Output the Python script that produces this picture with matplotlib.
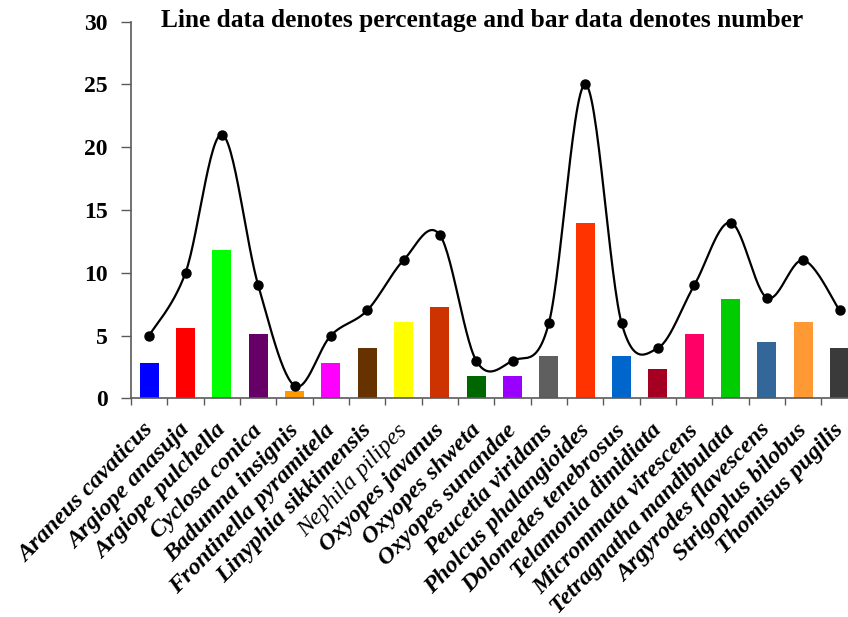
import numpy as np
import matplotlib.pyplot as plt

species = ["Araneus cavaticus", "Argiope anasuja", "Argiope pulchella", "Cyclosa conica",
           "Badumna insignis", "Frontinella pyramitela", "Linyphia sikkimensis", "Nephila pilipes",
           "Oxyopes javanus", "Oxyopes shweta", "Oxyopes sunandae", "Peucetia viridans",
           "Pholcus phalangioides", "Dolomedes tenebrosus", "Telamonia dimidiata",
           "Micrommata virescens", "Tetragnatha mandibulata", "Argyrodes flavescens",
           "Strigoplus bilobus", "Thomisus pugilis"]
numbers = [2.8, 5.6, 11.8, 5.1, 0.6, 2.8, 4.0, 6.1, 7.3, 1.8,
           1.8, 3.4, 14.0, 3.4, 2.3, 5.1, 7.9, 4.5, 6.1, 4.0]
percentage = [5, 10, 21, 9, 1, 5, 7, 11, 13, 3,
              3, 6, 25, 6, 4, 9, 14, 8, 11, 7]
bar_colors = ["#0000FF", "#FF0000", "#00FF00", "#660066", "#FF9900", "#FF00FF", "#663300",
              "#FFFF00", "#CC3300", "#006600", "#9900FF", "#5F5F5F", "#FF3300", "#0066CC",
              "#A50021", "#FF0066", "#00CC00", "#336699", "#FF9933", "#3A3A3A"]

plt.rcParams['font.family'] = ['Liberation Serif', 'DejaVu Serif']


def smooth_line(xs, ys, steps=30):
    # Catmull-Rom spline, like the Excel "smoothed line" option
    xs = np.asarray(xs, float)
    ys = np.asarray(ys, float)
    px = np.concatenate([[xs[0]], xs, [xs[-1]]])
    py = np.concatenate([[ys[0]], ys, [ys[-1]]])
    out_x, out_y = [], []
    t = np.linspace(0, 1, steps)
    for i in range(1, len(px) - 2):
        for p, out in ((px, out_x), (py, out_y)):
            p0, p1, p2, p3 = p[i - 1], p[i], p[i + 1], p[i + 2]
            seg = 0.5 * ((2 * p1) + (-p0 + p2) * t + (2 * p0 - 5 * p1 + 4 * p2 - p3) * t ** 2
                         + (-p0 + 3 * p1 - 3 * p2 + p3) * t ** 3)
            out.extend(seg)
    return np.array(out_x), np.array(out_y)


fig = plt.figure(figsize=(8.48, 6.17), dpi=100)
ax = fig.add_axes([0.1545, 0.3545, 0.857, 0.6104])

x = np.arange(len(species))
ax.bar(x, numbers, width=0.52, color=bar_colors, zorder=2)

sx, sy = smooth_line(x, percentage)
ax.plot(sx, sy, color='black', linewidth=1.6, zorder=3)
ax.plot(x, percentage, 'o', color='black', markersize=6.5, zorder=4)

ax.set_xlim(-0.5, len(species) - 0.5)
ax.set_ylim(0, 30)
ax.set_yticks(range(0, 31, 5))
ax.tick_params(axis='y', direction='out', length=7, width=1, color='#5a5a5a', labelsize=17, pad=10)
for lab in ax.get_yticklabels():
    lab.set_fontweight('bold')

ax.set_xticks(np.arange(len(species) + 1) - 0.5, minor=False)
ax.set_xticklabels([])
ax.tick_params(axis='x', direction='out', length=5, width=1, color='#5a5a5a')
for i, name in enumerate(species):
    weight = 'normal' if name == "Nephila pilipes" else 'bold'
    ax.text(i + 0.02, -2.3, name, rotation=46, rotation_mode='anchor', ha='right', va='center',
            fontsize=17.5, fontstyle='italic', fontweight=weight)

for side in ['top', 'right']:
    ax.spines[side].set_visible(False)
for side in ['left', 'bottom']:
    ax.spines[side].set_color('#5a5a5a')
    ax.spines[side].set_linewidth(1.2)

fig.text(0.568, 0.967, "Line data denotes percentage and bar data denotes number",
         ha='center', va='center', fontsize=18.3, fontweight='bold')

fig.savefig("out.png", dpi=100)
